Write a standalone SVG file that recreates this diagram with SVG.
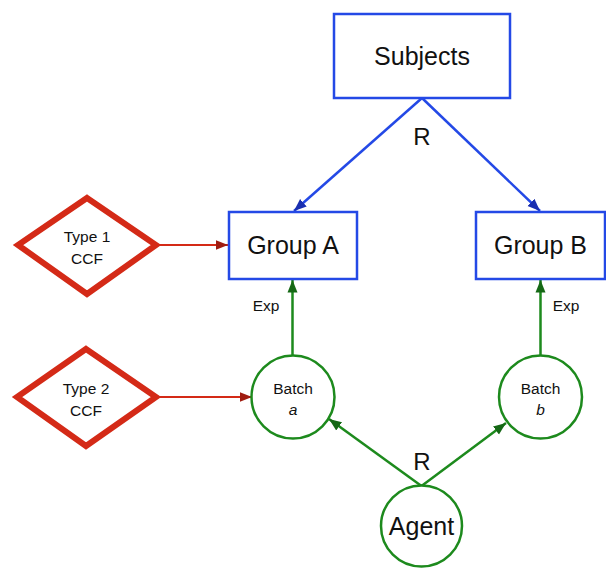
<svg xmlns="http://www.w3.org/2000/svg" width="606" height="568" viewBox="0 0 606 568">
  <style>
    .box { fill: #ffffff; stroke: #2449e6; stroke-width: 2.5; }
    .circ { fill: #ffffff; stroke: #1d8a1d; stroke-width: 2.5; }
    .dia { fill: #ffffff; stroke: #d42a17; stroke-width: 6; stroke-linejoin: miter; }
    .lbl { font-family: "Liberation Sans", Arial, sans-serif; fill: #111111; text-anchor: middle; }
    .big { font-size: 25px; }
    .small { font-size: 15.5px; }
    .edge-blue { stroke: #2449e6; stroke-width: 2.5; fill: none; }
    .edge-green { stroke: #1d8a1d; stroke-width: 2.5; fill: none; }
    .edge-red { stroke: #d42a17; stroke-width: 2; fill: none; }
  </style>
  <defs>
    <marker id="ah-blue" viewBox="0 0 10 10" refX="10" refY="5" markerWidth="5" markerHeight="5" orient="auto" markerUnits="strokeWidth">
      <path d="M0,1 L10,5 L0,9 Z" fill="#1a2fb0"/>
    </marker>
    <marker id="ah-green" viewBox="0 0 10 10" refX="10" refY="5" markerWidth="5" markerHeight="5" orient="auto" markerUnits="strokeWidth">
      <path d="M0,1 L10,5 L0,9 Z" fill="#156815"/>
    </marker>
    <marker id="ah-red" viewBox="0 0 10 10" refX="10" refY="5" markerWidth="6" markerHeight="6" orient="auto" markerUnits="strokeWidth">
      <path d="M0,1 L10,5 L0,9 Z" fill="#a01c10"/>
    </marker>
  </defs>

  <g id="connectors">
    <line class="edge-blue" x1="422" y1="98" x2="294" y2="211" marker-end="url(#ah-blue)"/>
    <line class="edge-blue" x1="422" y1="98" x2="540" y2="211" marker-end="url(#ah-blue)"/>
    <line class="edge-green" x1="292.5" y1="355" x2="292.5" y2="280" marker-end="url(#ah-green)"/>
    <line class="edge-green" x1="540.5" y1="355" x2="540.5" y2="280" marker-end="url(#ah-green)"/>
    <line class="edge-green" x1="421.5" y1="486" x2="329" y2="419" marker-end="url(#ah-green)"/>
    <line class="edge-green" x1="421.5" y1="486" x2="506" y2="423" marker-end="url(#ah-green)"/>
    <line class="edge-red" x1="157" y1="245" x2="228" y2="245" marker-end="url(#ah-red)"/>
    <line class="edge-red" x1="157" y1="397" x2="252" y2="397" marker-end="url(#ah-red)"/>
    <text class="lbl" x="422" y="145" font-size="24">R</text>
    <text class="lbl" x="422" y="470" font-size="24">R</text>
    <text class="lbl small" x="266" y="311">Exp</text>
    <text class="lbl small" x="566" y="311">Exp</text>
  </g>

  <g id="subjects">
    <rect class="box" x="334" y="14" width="176" height="84"/>
    <text class="lbl big" x="422" y="65">Subjects</text>
  </g>

  <g id="group-a">
    <rect class="box" x="229" y="212" width="128" height="67"/>
    <text class="lbl big" x="293" y="254">Group A</text>
  </g>

  <g id="group-b">
    <rect class="box" x="476" y="212" width="129" height="67"/>
    <text class="lbl big" x="540.5" y="254">Group B</text>
  </g>

  <g id="batch-a">
    <circle class="circ" cx="293" cy="397" r="41.5"/>
    <text class="lbl small" x="293" y="394">Batch</text>
    <text class="lbl small" x="293" y="415" font-style="italic">a</text>
  </g>

  <g id="batch-b">
    <circle class="circ" cx="540.5" cy="397" r="41.5"/>
    <text class="lbl small" x="540.5" y="394">Batch</text>
    <text class="lbl small" x="540.5" y="415" font-style="italic">b</text>
  </g>

  <g id="agent">
    <circle class="circ" cx="421.5" cy="526" r="40.5"/>
    <text class="lbl big" x="421.5" y="535">Agent</text>
  </g>

  <g id="type1-ccf">
    <polygon class="dia" points="87,198 156,245 87,294 18,245"/>
    <text class="lbl small" x="87" y="242">Type 1</text>
    <text class="lbl small" x="87" y="264">CCF</text>
  </g>

  <g id="type2-ccf">
    <polygon class="dia" points="86,349 156,397 86,446 17,397"/>
    <text class="lbl small" x="86" y="394">Type 2</text>
    <text class="lbl small" x="86" y="416">CCF</text>
  </g>
</svg>
